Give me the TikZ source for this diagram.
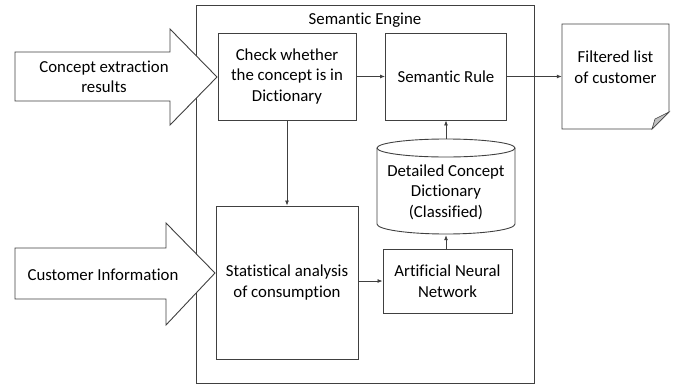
\documentclass[tikz,border=0pt]{standalone}
\usepackage{fontspec}
\setmainfont{Carlito}[Ligatures={NoCommon}]
\usetikzlibrary{arrows.meta}
\definecolor{ln}{HTML}{404040}
\definecolor{fold}{HTML}{C0C0C0}
\begin{document}
\begin{tikzpicture}[x=1pt,y=-1pt,
  every node/.style={font=\fontsize{16.8}{20.5}\selectfont, text=black, align=center},
  outline/.style={draw=ln, line width=0.9pt},
  boxnode/.style={outline, rectangle, inner sep=0pt},
  conn/.style={draw=ln, line width=0.8pt, -{Latex[length=5pt,width=4pt]}},
  plain/.style={draw=none, inner sep=0pt}
]
\useasboundingbox (0,0) rectangle (677,386);
% outer engine
\draw[outline] (196,5) rectangle (534,383);
\node[plain] (eng) at (365,20) {Semantic Engine};
% boxes
\node[boxnode, minimum width=138pt, minimum height=87pt] (check) at (287,76.5) {Check whether\\the concept is in\\Dictionary};
\node[boxnode, minimum width=121pt, minimum height=87pt] (rule) at (446,76.5) {Semantic Rule};
\node[boxnode, minimum width=142pt, minimum height=153pt] (stat) at (287,282.5) {Statistical analysis\\of consumption};
\node[boxnode, minimum width=129pt, minimum height=64pt] (ann) at (447.5,281) {Artificial Neural\\Network};
% cylinder
\draw[outline, fill=white] (377,148) -- (377,224) arc[start angle=180, end angle=360, x radius=69pt, y radius=10pt] -- (515,148);
\draw[outline] (446,148) ellipse[x radius=69pt, y radius=9pt];
\node[plain, minimum width=138pt, minimum height=96pt] (cyl) at (446,187) {};
\node[plain] (cyltext) at (446,192) {Detailed Concept\\Dictionary\\(Classified)};
% document
\draw[outline] (562,24) -- (669,24) -- (669,112) -- (652,129) -- (562,129) -- cycle;
\draw[outline, fill=fold, line width=0.6pt] (669,112) -- (652,129) -- (655,119) -- cycle;
\node[plain, minimum width=107pt, minimum height=105pt] (doc) at (615.5,76.5) {};
\node[plain] (doctext) at (615.5,67) {Filtered list\\of customer};
% big input arrows
\draw[outline, fill=white] (15,52) -- (170,52) -- (170,29) -- (217,77) -- (170,125) -- (170,101) -- (15,101) -- cycle;
\node[plain] (in1) at (104,77) {Concept extraction\\results};
\draw[outline, fill=white] (15,248) -- (166,248) -- (166,223) -- (215,273) -- (166,325) -- (166,299) -- (15,299) -- cycle;
\node[plain] (in2) at (103,275) {Customer Information};
% connectors
\draw[conn] (check.east) -- (rule.west);
\draw[conn] (rule.east) -- (doc.west);
\draw[conn] (check.south) -- (stat.north);
\draw[conn] (stat.east |- ann.west) -- (ann.west);
\draw[conn] (ann.north -| cyl.south) -- (cyl.south);
\draw[conn] (cyl.north) -- (rule.south);
\end{tikzpicture}
\end{document}
